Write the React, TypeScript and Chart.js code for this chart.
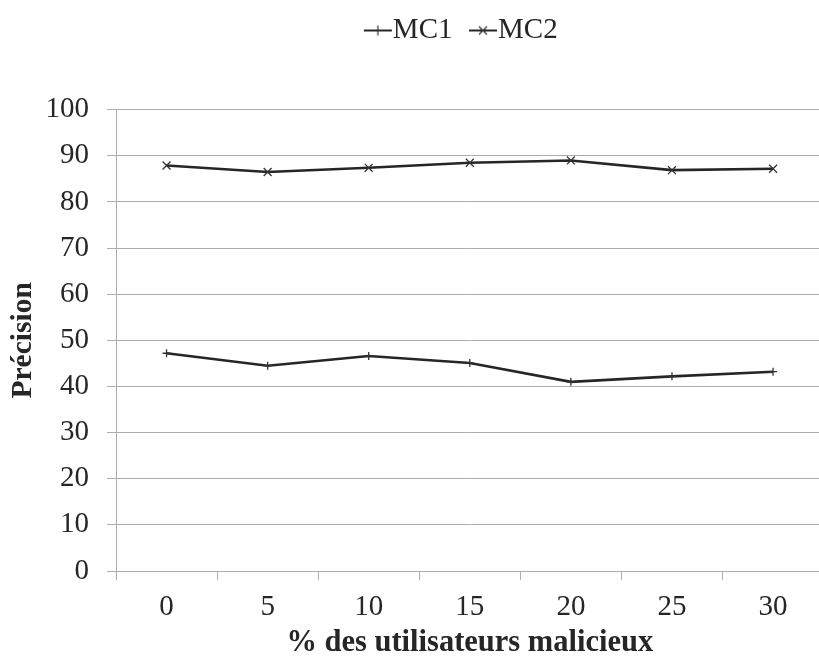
import React, { useEffect, useRef } from "react";
import { Chart, registerables } from "chart.js";

Chart.register(...registerables);

const categories = ["0", "5", "10", "15", "20", "25", "30"];
const mc1Values = [47.2, 44.5, 46.6, 45.1, 41.0, 42.2, 43.2];
const mc2Values = [87.9, 86.5, 87.4, 88.5, 89.0, 86.9, 87.2];
const seriesNames = ["MC1", "MC2"];
const xTitle = "% des utilisateurs malicieux";
const yTitle = "Précision";

const FONT = "'Liberation Serif', 'Times New Roman', serif";
const TEXT = "#262626";
const LINE = "#262626";
const GRID = "#adadad";

function legendSymbol(kind: "cross" | "crossRot"): HTMLCanvasElement {
  const c = document.createElement("canvas");
  c.width = 44;
  c.height = 16;
  const ctx = c.getContext("2d")!;
  const cy = 8;
  ctx.strokeStyle = LINE;
  ctx.lineWidth = 2;
  ctx.beginPath();
  ctx.moveTo(15, cy);
  ctx.lineTo(43, cy);
  ctx.stroke();
  const cx = 29;
  ctx.strokeStyle = "#333";
  ctx.lineWidth = 1.2;
  ctx.beginPath();
  if (kind === "cross") {
    ctx.moveTo(cx, cy - 5);
    ctx.lineTo(cx, cy + 5);
  } else {
    ctx.moveTo(cx - 4, cy - 4);
    ctx.lineTo(cx + 4, cy + 4);
    ctx.moveTo(cx + 4, cy - 4);
    ctx.lineTo(cx - 4, cy + 4);
  }
  ctx.stroke();
  return c;
}

export default function App() {
  const ref = useRef<HTMLCanvasElement | null>(null);

  useEffect(() => {
    if (!ref.current) return;
    const symbols = [legendSymbol("cross"), legendSymbol("crossRot")];
    const chart = new Chart(ref.current, {
      type: "line",
      data: {
        labels: categories,
        datasets: [
          {
            label: seriesNames[0],
            data: mc1Values,
            borderColor: LINE,
            borderWidth: 2.6,
            pointStyle: "cross",
            pointRadius: 4,
            pointBorderColor: "#333",
            pointBorderWidth: 1.3,
            pointBackgroundColor: "transparent",
            tension: 0,
            fill: false,
          },
          {
            label: seriesNames[1],
            data: mc2Values,
            borderColor: LINE,
            borderWidth: 2.6,
            pointStyle: "crossRot",
            pointRadius: 5.6,
            pointBorderColor: "#333",
            pointBorderWidth: 1.3,
            pointBackgroundColor: "transparent",
            tension: 0,
            fill: false,
          },
        ],
      },
      options: {
        responsive: false,
        animation: false,
        devicePixelRatio: 1,
        layout: { padding: 0 },
        plugins: {
          tooltip: { enabled: false },
          legend: {
            display: true,
            position: "top",
            weight: 3000,
            labels: {
              usePointStyle: true,
              pointStyleWidth: 15,
              padding: 16,
              color: TEXT,
              font: { family: FONT, size: 29 },
              generateLabels: (ch: any) => {
                const items = (Chart.defaults.plugins.legend.labels as any).generateLabels(ch);
                return items.map((it: any, i: number) => ({ ...it, pointStyle: symbols[i] }));
              },
            },
          } as any,
          title: {
            display: true,
            text: " ",
            position: "top",
            font: { size: 1, lineHeight: 1 },
            padding: { top: 0, bottom: 53.7 },
          },
        },
        scales: {
          x: {
            type: "category",
            offset: true,
            grid: {
              display: true,
              drawOnChartArea: false,
              drawTicks: true,
              tickLength: 9,
              offset: true,
              color: GRID,
            },
            border: { display: true, color: GRID },
            ticks: {
              color: TEXT,
              padding: 9.6,
              font: { family: FONT, size: 29 },
              maxRotation: 0,
            },
            title: {
              display: true,
              text: xTitle,
              color: TEXT,
              font: { family: FONT, size: 30.5, weight: "bold", lineHeight: 0.94 },
              padding: { top: 0, bottom: 0 },
            },
            afterFit: (s: any) => {
              s.height = 86;
            },
          },
          y: {
            type: "linear",
            min: 0,
            max: 100,
            ticks: {
              stepSize: 10,
              color: TEXT,
              padding: 18,
              font: { family: FONT, size: 29 },
            },
            grid: {
              color: GRID,
              drawTicks: true,
              tickLength: 9,
            },
            border: { display: true, color: GRID },
            title: {
              display: true,
              text: yTitle,
              color: TEXT,
              font: { family: FONT, size: 29.5, weight: "bold", lineHeight: 1.2 },
              padding: { top: 5.3, bottom: 0 },
            },
            afterFit: (s: any) => {
              s.width = 116;
            },
          },
          y2: {
            type: "linear",
            position: "right",
            display: true,
            grid: { display: false },
            border: { display: false },
            ticks: { display: false },
            afterFit: (s: any) => {
              s.width = 97.4;
            },
          },
        },
      },
    });
    return () => chart.destroy();
  }, []);

  return (
    <div
      style={{
        position: "fixed",
        left: 0,
        top: 0,
        width: 819,
        height: 657,
        overflow: "hidden",
        background: "#fff",
      }}
    >
      <canvas ref={ref} width={921} height={657} style={{ display: "block" }} />
    </div>
  );
}
